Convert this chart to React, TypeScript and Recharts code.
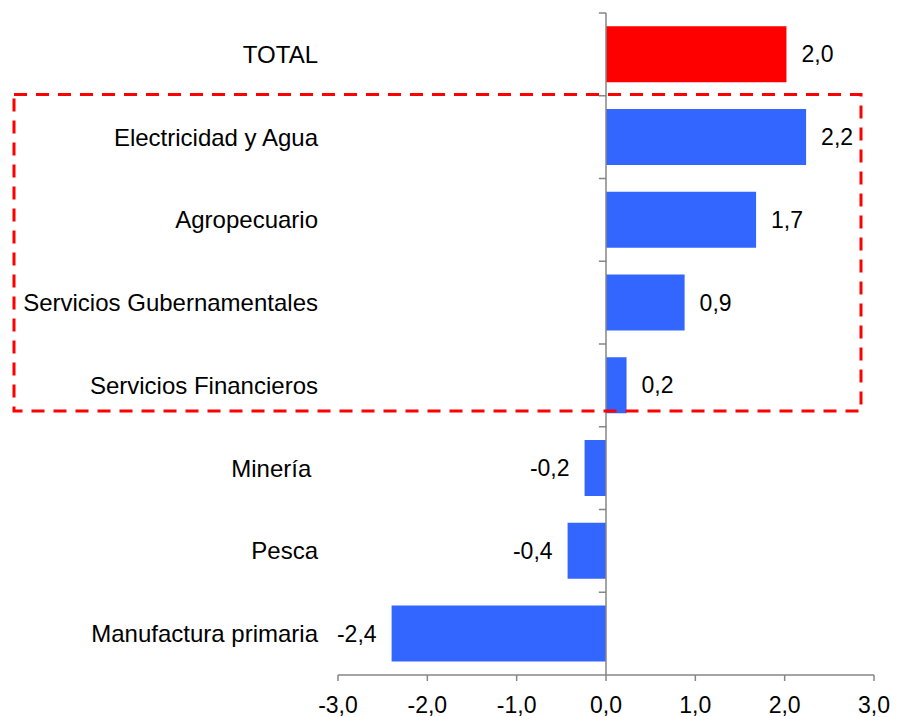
import { BarChart, Bar, XAxis, YAxis, Cell, LabelList, ReferenceLine } from 'recharts'

const categories = [
  'TOTAL',
  'Electricidad y Agua',
  'Agropecuario',
  'Servicios Gubernamentales',
  'Servicios Financieros',
  'Minería ',
  'Pesca',
  'Manufactura primaria',
]
const values = [2.02, 2.24, 1.68, 0.88, 0.23, -0.24, -0.43, -2.4]
const barColors = ['#FF0000', '#3366FF', '#3366FF', '#3366FF', '#3366FF', '#3366FF', '#3366FF', '#3366FF']
const xTicks = [-3, -2, -1, 0, 1, 2, 3]

const data = categories.map((name, i) => ({ name, value: values[i] }))

const FONT = '"Liberation Sans", Arial, sans-serif'
const AXIS = '#868686'

const fmt = (v: number) => v.toFixed(1).replace('.', ',')

const CategoryTick = ({ x, y, payload }: any) => (
  <text
    x={x}
    y={y}
    dy="0.355em"
    textAnchor="end"
    fill="#000"
    fontSize={24}
    fontFamily={FONT}
    style={{ whiteSpace: 'pre' }}
  >
    {payload.value}
  </text>
)

export default function App() {
  return (
    <div style={{ position: 'absolute', left: 0, top: 0, width: 897, height: 717, background: '#fff' }}>
      <BarChart
        width={897}
        height={717}
        data={data}
        layout="vertical"
        margin={{ top: 13, right: 23, bottom: 0, left: 0 }}
        barCategoryGap="16%"
      >
        <XAxis
          type="number"
          domain={[-3, 3]}
          ticks={xTicks}
          tickFormatter={fmt}
          height={42}
          tickSize={6}
          tickMargin={16}
          axisLine={{ stroke: AXIS, strokeWidth: 1.5 }}
          tickLine={{ stroke: AXIS, strokeWidth: 1.5 }}
          tick={{ fill: '#000', fontSize: 23, fontFamily: FONT }}
          interval={0}
        />
        <YAxis
          type="category"
          dataKey="name"
          width={338}
          axisLine={false}
          tickLine={false}
          tickSize={0}
          tickMargin={20}
          tick={<CategoryTick />}
          interval={0}
        />
        <ReferenceLine x={0} stroke={AXIS} strokeWidth={1.5} />
        {categories.map((c) => (
          <ReferenceLine
            key={c}
            segment={[
              { x: -0.08, y: c },
              { x: 0, y: c },
            ]}
            position="start"
            stroke={AXIS}
            strokeWidth={1.5}
            ifOverflow="visible"
          />
        ))}
        <Bar dataKey="value" isAnimationActive={false}>
          {data.map((d, i) => (
            <Cell key={d.name} fill={barColors[i]} />
          ))}
          <LabelList
            dataKey="value"
            position="right"
            offset={15}
            formatter={(v: any) => fmt(Number(v))}
            fill="#000"
            fontSize={23}
            fontFamily={FONT}
          />
        </Bar>
      </BarChart>
      <svg
        width={897}
        height={717}
        style={{ position: 'absolute', left: 0, top: 0, pointerEvents: 'none' }}
      >
        <rect
          x={14}
          y={94.5}
          width={847}
          height={316.5}
          fill="none"
          stroke="#FF0000"
          strokeWidth={3}
          strokeDasharray="13 9"
        />
      </svg>
    </div>
  )
}
